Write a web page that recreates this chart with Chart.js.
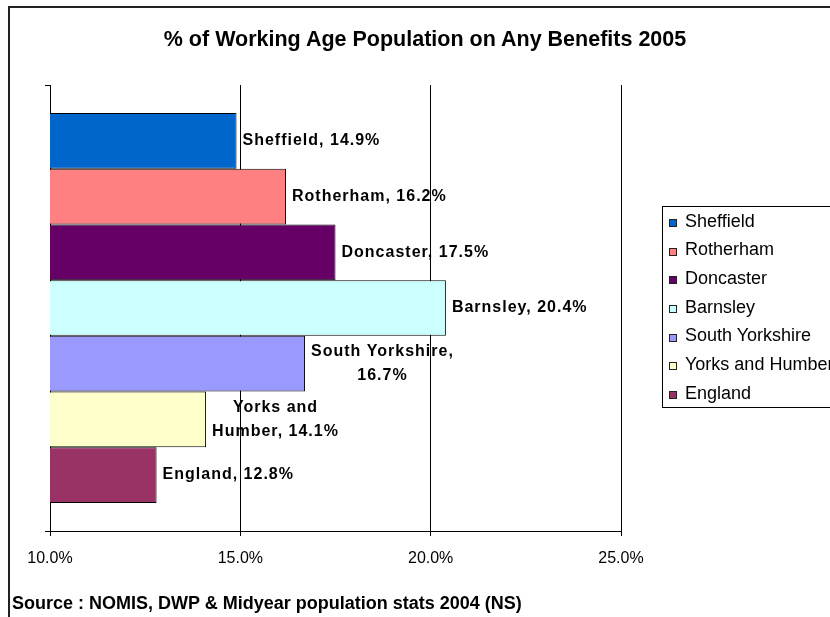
<!DOCTYPE html>
<html>
<head>
<meta charset="utf-8">
<title>% of Working Age Population on Any Benefits 2005</title>
<script src="https://cdn.jsdelivr.net/npm/chart.js@4.4.1/dist/chart.umd.min.js"></script>
<style>
  html, body { margin: 0; padding: 0; background: #fff; overflow: hidden; }
  #wrap { position: relative; width: 830px; height: 617px; overflow: hidden; font-family: "Liberation Sans", Arial, sans-serif; color: #000; }
  #frame { position: absolute; left: 8px; top: 6px; width: 900px; height: 700px; border-left: 2px solid #222; border-top: 2px solid #222; }
  #chartBox { position: absolute; left: 0; top: 0; width: 830px; height: 617px; }
  #title { position: absolute; left: 0; top: 29px; width: 850px; text-align: center; font-weight: bold; font-size: 21.5px; line-height: 21.5px; white-space: nowrap; }
  #source { position: absolute; left: 12px; top: 594px; font-weight: bold; font-size: 18px; line-height: 18px; white-space: nowrap; }
  #legend { position: absolute; left: 662px; top: 206px; width: 200px; height: 200px; border: 1px solid #000; }
  .item { position: absolute; left: 22px; font-size: 18px; line-height: 18px; white-space: nowrap; }
  .swatch { position: absolute; left: 6px; width: 8px; height: 8px; box-sizing: border-box; border: 1px solid #222; }
</style>
</head>
<body>
<div id="wrap">
  <div id="frame"></div>
  <div id="chartBox"><canvas id="chart"></canvas></div>
  <div id="title">% of Working Age Population on Any Benefits 2005</div>
  <div id="legend"></div>
  <div id="source">Source : NOMIS, DWP &amp; Midyear population stats 2004 (NS)</div>
</div>
<script>
// ---------- DATA ----------
const regions = ["Sheffield", "Rotherham", "Doncaster", "Barnsley", "South Yorkshire", "Yorks and Humber", "England"];
const benefitPct = [14.9, 16.2, 17.5, 20.4, 16.7, 14.1, 12.8];
const barColors = ["#0066CC", "#FF8080", "#660066", "#CCFFFF", "#9999FF", "#FFFFCC", "#993366"];
const xTicks = [10, 15, 20, 25];
// words before the line break in the bar label (0 = one line)
const labelWrapAfter = [0, 0, 0, 0, 2, 2, 0];

const FONT = '"Liberation Sans", Arial, sans-serif';

// ---------- LEGEND ----------
let legend = document.getElementById("legend");
regions.forEach((r, i) => {
  let base = 20 + i * 28.67;   // text baseline inside the box
  let item = document.createElement("div");
  item.className = "item";
  item.style.top = (base - 15.2) + "px";
  item.textContent = r;
  let sw = document.createElement("div");
  sw.className = "swatch";
  sw.style.top = (base - 8) + "px";
  sw.style.background = barColors[i];
  legend.appendChild(sw);
  legend.appendChild(item);
});

// ---------- BAR LABELS ----------
const barLabels = {
  id: "barLabels",
  afterDatasetsDraw(chart) {
    let ctx = chart.ctx;
    ctx.save();
    ctx.font = "bold 16px " + FONT;
    ctx.letterSpacing = "1px";
    ctx.fillStyle = "#000";
    ctx.textBaseline = "middle";

    chart.data.datasets.forEach((ds, i) => {
      let bar = chart.getDatasetMeta(i).data[0];
      let words = (regions[i] + ", " + benefitPct[i].toFixed(1) + "%").split(" ");
      let n = labelWrapAfter[i];
      let lines = n ? [words.slice(0, n).join(" "), words.slice(n).join(" ")] : [words.join(" ")];
      let w = Math.max(...lines.map(l => ctx.measureText(l).width));
      let left = bar.x + 6;

      lines.forEach((l, k) => {
        let y = bar.y + (k - (lines.length - 1) / 2) * 24;
        if (lines.length > 1) {
          ctx.textAlign = "center";
          ctx.fillText(l, left + w / 2, y);
        } else {
          ctx.textAlign = "left";
          ctx.fillText(l, left, y);
        }
      });
    });
    ctx.restore();
  }
};

// ---------- CHART ----------
let datasets = regions.map((r, i) => ({
  label: r,
  data: [benefitPct[i]],
  backgroundColor: barColors[i],
  borderColor: "#000",
  borderWidth: 1,
  borderSkipped: false,
  barPercentage: 1,
  categoryPercentage: 0.874
}));

new Chart(document.getElementById("chart"), {
  type: "bar",
  data: { labels: [""], datasets: datasets },
  plugins: [barLabels],
  options: {
    indexAxis: "y",
    responsive: true,
    maintainAspectRatio: false,
    animation: false,
    layout: { padding: { left: 45, right: 209, top: 85, bottom: 46 } },
    plugins: {
      legend: { display: false },
      title: { display: false },
      tooltip: { enabled: false }
    },
    scales: {
      x: {
        type: "linear",
        min: 10,
        max: 25,
        afterBuildTicks: s => { s.ticks = xTicks.map(v => ({ value: v })); },
        afterFit: s => { s.height = 40; },
        ticks: {
          callback: v => v.toFixed(1) + "%",
          font: { size: 16, family: FONT },
          color: "#000",
          padding: 13,
          maxRotation: 0
        },
        grid: { color: "#000", lineWidth: 1, tickLength: 5 },
        border: { color: "#000", width: 1 }
      },
      y: {
        type: "category",
        offset: true,
        afterFit: s => { s.width = 5; },
        ticks: { display: false },
        grid: { offset: true, drawOnChartArea: false, tickLength: 5, color: "#000" },
        border: { color: "#000", width: 1 }
      }
    }
  }
});
</script>
</body>
</html>
